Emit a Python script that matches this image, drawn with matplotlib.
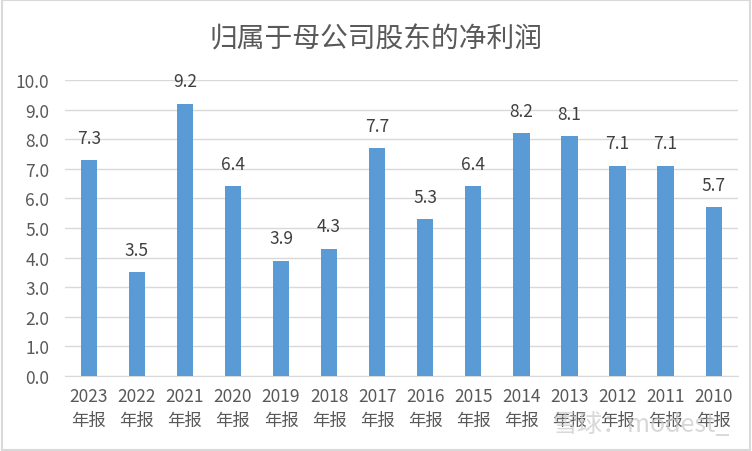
import matplotlib.pyplot as plt
import numpy as np

plt.rcParams['font.family'] = ['Noto Sans CJK SC', 'DejaVu Sans']

years = ["2023", "2022", "2021", "2020", "2019", "2018", "2017",
         "2016", "2015", "2014", "2013", "2012", "2011", "2010"]
labels = [y + "\n年报" for y in years]
profit = [7.3, 3.5, 9.2, 6.4, 3.9, 4.3, 7.7, 5.3, 6.4, 8.2, 8.1, 7.1, 7.1, 5.7]
title = "归属于母公司股东的净利润"

text_color = "#595959"
bar_color = "#5B9BD5"

fig = plt.figure(figsize=(7.52, 4.52), dpi=100)
fig.patch.set_facecolor("white")
ax = fig.add_axes([0.086, 0.166, 0.895, 0.655])

x = np.arange(len(years))
ax.bar(x, profit, width=0.34, color=bar_color, zorder=3)
for xi, v in zip(x, profit):
    ax.text(xi, v + 0.45, "%.1f" % v, ha="center", va="bottom",
            fontsize=12.5, color="#404040")

ax.set_ylim(0, 10)
ax.set_xlim(-0.5, len(years) - 0.5)
ax.set_yticks(np.arange(0, 10.5, 1.0))
ax.set_yticklabels(["%.1f" % t for t in np.arange(0, 10.5, 1.0)])
ax.set_xticks(x)
ax.set_xticklabels(labels, linespacing=1.45)
ax.tick_params(axis="both", length=0, labelsize=12.5, colors=text_color)
ax.tick_params(axis="y", pad=11)
ax.tick_params(axis="x", pad=8)
ax.yaxis.grid(True, color="#D9D9D9", linewidth=1, zorder=0)
for s in ax.spines.values():
    s.set_visible(False)
ax.spines["bottom"].set_visible(True)
ax.spines["bottom"].set_color("#D9D9D9")

fig.text(0.5, 0.912, title, ha="center", va="center", fontsize=20, color=text_color)

# watermark
fig.text(0.97, 0.06, "雪球：modest_", ha="right", va="center", fontsize=18,
         color="#C8C8C8", alpha=0.7)

# outer frame
fig.add_artist(plt.Rectangle((0.002, 0.003), 0.996, 0.994, transform=fig.transFigure,
                             fill=False, edgecolor="#D9D9D9", linewidth=1.5))

fig.savefig("out.png", dpi=100)
